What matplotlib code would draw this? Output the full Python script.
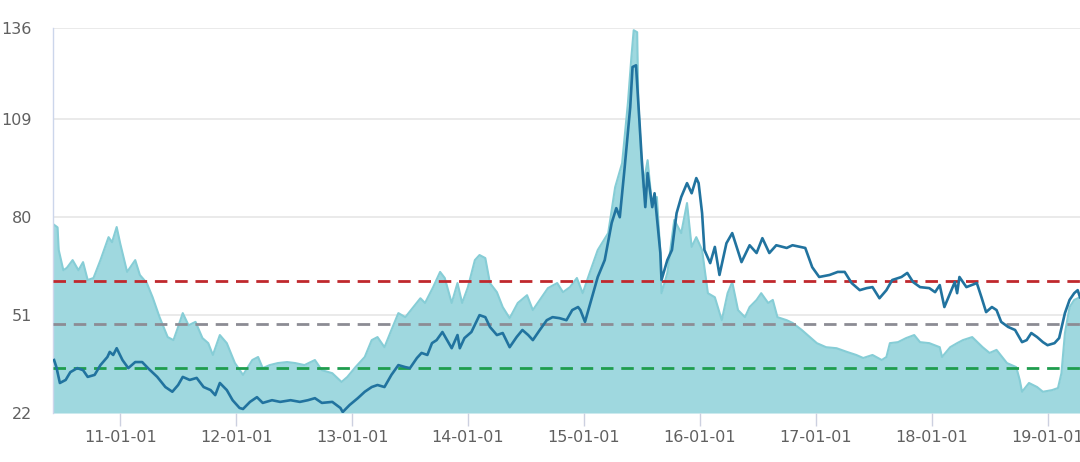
import matplotlib
matplotlib.use("Agg")
import matplotlib.pyplot as plt

plt.rcParams['font.family'] = ['DejaVu Sans']

# decimal-year positions and values
area_t = [2010.42, 2010.46, 2010.47, 2010.51, 2010.54, 2010.59, 2010.64, 2010.68, 2010.72, 2010.77,
          2010.83, 2010.90, 2010.93, 2010.97, 2011.00, 2011.06, 2011.13, 2011.17, 2011.23, 2011.28,
          2011.34, 2011.41, 2011.46, 2011.50, 2011.54, 2011.59, 2011.65, 2011.71, 2011.76, 2011.80,
          2011.86, 2011.92, 2011.99, 2012.06, 2012.14, 2012.19, 2012.23, 2012.29, 2012.36, 2012.44,
          2012.51, 2012.59, 2012.68, 2012.74, 2012.83, 2012.91, 2012.96, 2013.03, 2013.11, 2013.17,
          2013.22, 2013.28, 2013.34, 2013.40, 2013.46, 2013.53, 2013.59, 2013.63, 2013.70, 2013.76,
          2013.80, 2013.86, 2013.91, 2013.95, 2014.00, 2014.06, 2014.10, 2014.15, 2014.19, 2014.25,
          2014.30, 2014.36, 2014.43, 2014.51, 2014.56, 2014.62, 2014.69, 2014.77, 2014.82, 2014.88,
          2014.94, 2014.99, 2015.05, 2015.12, 2015.21, 2015.27, 2015.33, 2015.38, 2015.41, 2015.43,
          2015.46, 2015.47, 2015.51, 2015.55, 2015.59, 2015.63, 2015.66, 2015.67, 2015.72, 2015.78,
          2015.84, 2015.89, 2015.93, 2015.97, 2016.02, 2016.07, 2016.13, 2016.19, 2016.24, 2016.28,
          2016.33, 2016.39, 2016.43, 2016.49, 2016.53, 2016.59, 2016.63, 2016.67, 2016.75, 2016.80,
          2016.88, 2016.95, 2017.01, 2017.09, 2017.18, 2017.27, 2017.35, 2017.41, 2017.49, 2017.57,
          2017.61, 2017.64, 2017.71, 2017.78, 2017.85, 2017.90, 2017.98, 2018.07, 2018.09, 2018.16,
          2018.22, 2018.27, 2018.35, 2018.44, 2018.50, 2018.56, 2018.65, 2018.73, 2018.76, 2018.78,
          2018.84, 2018.91, 2018.96, 2019.04, 2019.09, 2019.12, 2019.15, 2019.19, 2019.23, 2019.28]
area_v = [78, 77, 70.3, 64.3, 65, 67.3, 64.3, 66.7, 61.4, 62,
          67.3, 74.1, 72.6, 77.1, 72.3, 63.8, 67.3, 62.9, 60.5, 56.3,
          50.4, 44.5, 43.6, 47.5, 51.6, 48, 49, 44.2, 42.7, 39.2,
          45.1, 42.7, 36.8, 33.3, 37.7, 38.6, 35.3, 36.2, 36.8, 37.1,
          36.8, 36.2, 37.7, 34.7, 33.8, 31.2, 32.7, 35.6, 38.6, 43.6,
          44.5, 41.5, 46.6, 51.6, 50.4, 53.4, 56, 54.6, 59.3, 63.8,
          62, 54.6, 60.5, 54.6, 59.3, 67.3, 68.8, 67.9, 60.5, 57.8,
          53.4, 50.1, 54.6, 56.9, 52.5, 55.5, 59, 60.5, 57.8, 59.3,
          62, 57.5, 63.5, 70.3, 75.3, 88.9, 96, 113.8, 127.4, 135.4,
          134.8, 113.8, 88.9, 96.9, 83, 86, 69.4, 57.5, 63.5, 79.2,
          75.3, 84.2, 71.2, 74.1, 70.3, 57.5, 56.3, 49.5, 57.5, 60.8,
          52.5, 50.4, 53.4, 55.5, 57.5, 54.6, 55.5, 50.4, 49.5, 48.7,
          46.6, 44.5, 42.7, 41.5, 41.2, 40.1, 39.2, 38.3, 39.2, 37.7,
          38.6, 42.7, 43, 44.2, 45.1, 43, 42.7, 41.5, 38.6, 41.5,
          42.7, 43.6, 44.5, 41.5, 39.8, 40.7, 36.8, 35.6, 31.8, 28.3,
          30.9, 29.7, 28.3, 28.8, 29.4, 33.8, 45.7, 53.4, 55.5, 56.3]

line_t = [2010.43, 2010.45, 2010.48, 2010.53, 2010.57, 2010.63, 2010.68, 2010.72, 2010.78, 2010.83,
          2010.89, 2010.91, 2010.94, 2010.97, 2011.02, 2011.07, 2011.13, 2011.19, 2011.24, 2011.32,
          2011.39, 2011.45, 2011.50, 2011.54, 2011.60, 2011.66, 2011.72, 2011.78, 2011.82, 2011.86,
          2011.92, 2011.97, 2012.03, 2012.06, 2012.12, 2012.18, 2012.23, 2012.31, 2012.38, 2012.47,
          2012.55, 2012.62, 2012.68, 2012.74, 2012.83, 2012.90, 2012.92, 2012.98, 2013.05, 2013.11,
          2013.17, 2013.22, 2013.28, 2013.34, 2013.40, 2013.46, 2013.50, 2013.56, 2013.60, 2013.65,
          2013.69, 2013.73, 2013.78, 2013.82, 2013.86, 2013.91, 2013.93, 2013.97, 2014.03, 2014.10,
          2014.15, 2014.19, 2014.25, 2014.30, 2014.36, 2014.42, 2014.47, 2014.52, 2014.56, 2014.62,
          2014.68, 2014.73, 2014.79, 2014.85, 2014.90, 2014.95, 2014.97, 2015.01, 2015.07, 2015.12,
          2015.18, 2015.24, 2015.28, 2015.31, 2015.35, 2015.40, 2015.42, 2015.45, 2015.47, 2015.50,
          2015.53, 2015.55, 2015.59, 2015.61, 2015.66, 2015.67, 2015.72, 2015.76, 2015.80, 2015.84,
          2015.89, 2015.93, 2015.97, 2015.99, 2016.02, 2016.04, 2016.09, 2016.13, 2016.17, 2016.23,
          2016.28, 2016.36, 2016.43, 2016.49, 2016.54, 2016.60, 2016.66, 2016.75, 2016.80, 2016.91,
          2016.97, 2017.03, 2017.12, 2017.19, 2017.25, 2017.31, 2017.38, 2017.44, 2017.49, 2017.55,
          2017.61, 2017.66, 2017.74, 2017.79, 2017.84, 2017.90, 2017.98, 2018.03, 2018.07, 2018.11,
          2018.16, 2018.20, 2018.22, 2018.24, 2018.30, 2018.39, 2018.43, 2018.47, 2018.52, 2018.56,
          2018.60, 2018.66, 2018.72, 2018.78, 2018.82, 2018.86, 2018.91, 2018.96, 2019.00, 2019.06,
          2019.10, 2019.15, 2019.19, 2019.23, 2019.26, 2019.28]
line_v = [37.7, 35.6, 30.9, 31.8, 34.1, 35.3, 34.7, 32.7, 33.3, 36.2,
          38.6, 40.1, 39.2, 41.2, 37.7, 35.3, 37.1, 37.1, 35.3, 32.7,
          29.7, 28.3, 30.3, 32.7, 31.8, 32.4, 29.7, 28.8, 27.3, 30.9,
          28.8, 25.8, 23.5, 23.2, 25.3, 26.7, 25, 25.8, 25.3, 25.8,
          25.3, 25.8, 26.4, 25, 25.3, 23.5, 22.3, 24.4, 26.4, 28.3,
          29.7, 30.3, 29.7, 33.3, 36.2, 35.6, 35.3, 38.3, 39.8, 39.2,
          42.7, 43.6, 46, 43.6, 41.2, 45.1, 41.2, 44.2, 46, 51,
          50.4, 47.5, 45.1, 45.7, 41.5, 44.5, 46.6, 45.1, 43.6, 46.6,
          49.5, 50.4, 50.1, 49.5, 52.5, 53.4, 52.5, 49, 56.3, 62.3,
          67.3, 78.3, 82.7, 80, 94, 112.6, 124.5, 125, 113.8, 96.9,
          83, 93.1, 83, 87.1, 69.4, 61.4, 67.3, 70.3, 81.2, 86,
          90.1, 87.1, 91.6, 90.1, 81.2, 70.3, 66.4, 71.2, 62.9, 72.3,
          75.3, 66.7, 71.7, 69.4, 73.8, 69.4, 71.7, 70.9, 71.7, 70.9,
          65.2, 62.3, 62.9, 63.8, 63.8, 60.5, 58.4, 59, 59.3, 56,
          58.4, 61.4, 62.3, 63.5, 60.8, 59.3, 59, 57.8, 59.9, 53.4,
          57.5, 60.8, 57.5, 62.3, 59.3, 60.5, 56.3, 51.9, 53.4, 52.5,
          49, 47.5, 46.6, 43, 43.6, 45.7, 44.5, 43, 42.1, 42.7,
          44.2, 51.6, 55.5, 57.5, 58.4, 56.3]

high_level = 61.1
mid_level = 48.4
low_level = 35.3

y_ticks = [22, 51, 80, 109, 136]
x_years = [2011, 2012, 2013, 2014, 2015, 2016, 2017, 2018, 2019]
x_labels = ['%02d-01-01' % (y % 100) for y in x_years]

fig = plt.figure(figsize=(10.8, 4.62), dpi=100)
ax = fig.add_axes([0.049, 0.106, 0.951, 0.833])

ax.set_xlim(2010.42, 2019.28)
ax.set_ylim(22, 136)

for v in y_ticks[1:]:
    ax.axhline(v, color='#e6e6e6', lw=1.2, zorder=0)

ax.fill_between(area_t, area_v, 22, color='#9fd8df', lw=0, zorder=1)
ax.plot(area_t, area_v, color='#86cdd6', lw=1.5, zorder=2)

ax.plot(line_t, line_v, color='#21739f', lw=1.9, zorder=4)

ax.axhline(high_level, color='#c0282d', lw=2, dashes=(4.5, 2.8), zorder=3)
ax.axhline(mid_level, color='#8c8c94', lw=2, dashes=(4.5, 2.8), zorder=3)
ax.axhline(low_level, color='#1f9d4e', lw=2, dashes=(4.5, 2.8), zorder=3)

ax.set_yticks(y_ticks)
ax.set_yticklabels([str(v) for v in y_ticks])
ax.set_xticks(x_years)
ax.set_xticklabels(x_labels)

ax.tick_params(axis='y', length=0, pad=15, labelsize=11.5, labelcolor='#606060')
ax.tick_params(axis='x', length=9, width=1, color='#ccd0e0', pad=3,
               labelsize=11.5, labelcolor='#606060')

for s in ['top', 'right', 'bottom']:
    ax.spines[s].set_visible(False)
ax.spines['left'].set_color('#ccd6eb')
ax.spines['left'].set_linewidth(1)

fig.savefig('out.png', dpi=100)
